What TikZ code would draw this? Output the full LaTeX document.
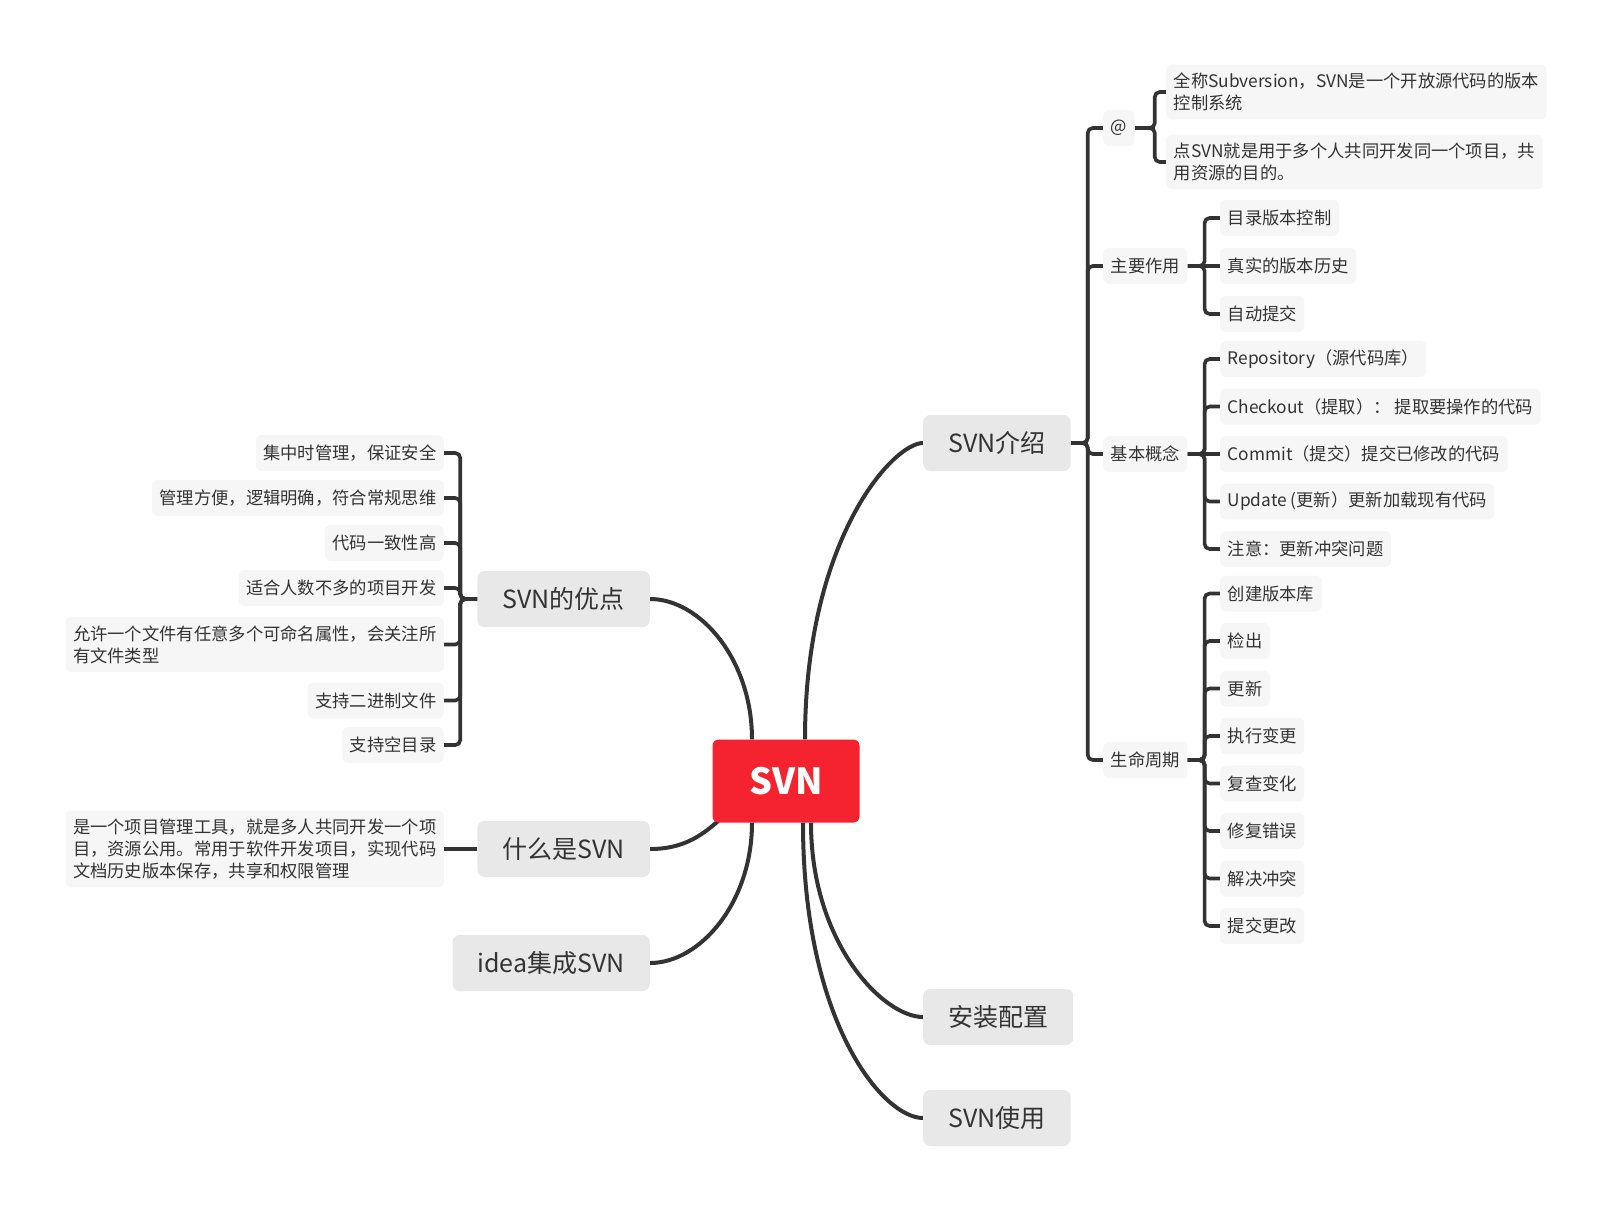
\documentclass[tikz,border=0pt]{standalone}
\usepackage{fontspec}
\setmainfont{Noto Sans CJK SC}
\usepackage{xcolor}
\usepackage{tikz}
\usetikzlibrary{backgrounds}
\definecolor{svnRed}{HTML}{F5222F}
\definecolor{topicGray}{HTML}{E8E8E8}
\definecolor{leafGray}{HTML}{F6F6F6}
\definecolor{lineDark}{HTML}{333333}
\definecolor{textDark}{HTML}{333333}

\begin{document}
\begin{tikzpicture}[x=1pt, y=-1pt,
    central/.style={fill=svnRed, rounded corners=6pt, minimum width=147pt, minimum height=83pt, text=white, font=\fontsize{36}{40}\selectfont\bfseries},
    topic/.style={fill=topicGray, rounded corners=7pt, inner xsep=25pt, minimum height=56pt, text=textDark, font=\fontsize{25}{30}\selectfont},
    leaf/.style={fill=leafGray, rounded corners=6pt, inner xsep=7.5pt, inner ysep=8.5pt, minimum height=36pt, text=textDark, font=\fontsize{17.3}{21.7}\selectfont, align=left},
    rootlink/.style={draw=lineDark, line width=4pt},
    bracket/.style={draw=lineDark, line width=3.6pt, rounded corners=5pt}]
    \useasboundingbox (0,0) rectangle (1617,1210);

    % root and main topics
    \node[central] (svn) at (786,781) {SVN};
    \node[topic, anchor=west] (intro) at (923,443) {SVN介绍};
    \node[topic, anchor=east] (pros) at (650,599) {SVN的优点};
    \node[topic, anchor=east] (what) at (650,849) {什么是SVN};
    \node[topic, anchor=east] (idea) at (650,963) {idea集成SVN};
    \node[topic, anchor=west] (install) at (923,1017) {安装配置};
    \node[topic, anchor=west] (usage) at (923,1118) {SVN使用};

    % SVN介绍
    \node[leaf, anchor=west] (atsign) at (1103,128) {@};
    \node[leaf, anchor=west] (role) at (1103,266) {主要作用};
    \node[leaf, anchor=west] (concept) at (1103,454) {基本概念};
    \node[leaf, anchor=west] (cycle) at (1103,760) {生命周期};

    \node[leaf, anchor=west] (fullname) at (1166,92) {全称Subversion，SVN是一个开放源代码的版本\\控制系统};
    \node[leaf, anchor=west] (shared) at (1166,162) {点SVN就是用于多个人共同开发同一个项目，共\\用资源的目的。};

    \node[leaf, anchor=west] (roleA) at (1220,218) {目录版本控制};
    \node[leaf, anchor=west] (roleB) at (1220,266) {真实的版本历史};
    \node[leaf, anchor=west] (roleC) at (1220,314) {自动提交};

    \node[leaf, anchor=west] (repo) at (1220,359) {Repository（源代码库）};
    \node[leaf, anchor=west] (checkout) at (1220,406.5) {Checkout（提取）： 提取要操作的代码};
    \node[leaf, anchor=west] (commit) at (1220,454) {Commit（提交）提交已修改的代码};
    \node[leaf, anchor=west] (update) at (1220,501.5) {Update (更新）更新加载现有代码};
    \node[leaf, anchor=west] (notice) at (1220,549) {注意：更新冲突问题};

    \node[leaf, anchor=west] (stepA) at (1220,593.5) {创建版本库};
    \node[leaf, anchor=west] (stepB) at (1220,641) {检出};
    \node[leaf, anchor=west] (stepC) at (1220,688.5) {更新};
    \node[leaf, anchor=west] (stepD) at (1220,736) {执行变更};
    \node[leaf, anchor=west] (stepE) at (1220,783.5) {复查变化};
    \node[leaf, anchor=west] (stepF) at (1220,831) {修复错误};
    \node[leaf, anchor=west] (stepG) at (1220,878.5) {解决冲突};
    \node[leaf, anchor=west] (stepH) at (1220,926) {提交更改};

    % SVN的优点
    \node[leaf, anchor=east] (prosA) at (444,453) {集中时管理，保证安全};
    \node[leaf, anchor=east] (prosB) at (444,498) {管理方便，逻辑明确，符合常规思维};
    \node[leaf, anchor=east] (prosC) at (444,543) {代码一致性高};
    \node[leaf, anchor=east] (prosD) at (444,588) {适合人数不多的项目开发};
    \node[leaf, anchor=east] (prosE) at (444,644.5) {允许一个文件有任意多个可命名属性，会关注所\\有文件类型};
    \node[leaf, anchor=east] (prosF) at (444,700.5) {支持二进制文件};
    \node[leaf, anchor=east] (prosG) at (444,745) {支持空目录};

    % 什么是SVN
    \node[leaf, anchor=east] (whatis) at (444,849) {是一个项目管理工具，就是多人共同开发一个项\\目，资源公用。常用于软件开发项目，实现代码\\文档历史版本保存，共享和权限管理};

    \begin{scope}[on background layer]
        \draw[rootlink] ([xshift=19pt]svn.north) .. controls +(0,-200) and +(-30,0) .. (intro.west);
        \draw[rootlink] ([xshift=-34pt]svn.north) .. controls +(0,-80) and +(50,0) .. (pros.east);
        \draw[rootlink] (what.east) .. controls +(40,0) and +(-23,22) .. ([xshift=20pt,yshift=15pt]svn.south west);
        \draw[rootlink] ([xshift=-34pt]svn.south) .. controls +(0,80) and +(50,0) .. (idea.east);
        \draw[rootlink] ([xshift=25pt]svn.south) .. controls +(0,120) and +(-40,0) .. (install.west);
        \draw[rootlink] ([xshift=17pt]svn.south) .. controls +(0,200) and +(-40,0) .. (usage.west);

        \draw[bracket] (intro.east) -- ++(17,0) |- (atsign.west);
        \draw[bracket] (intro.east) -- ++(17,0) |- (role.west);
        \draw[bracket] (intro.east) -- ++(17,0) |- (concept.west);
        \draw[bracket] (intro.east) -- ++(17,0) |- (cycle.west);

        \draw[bracket] (atsign.east) -- ++(20,0) |- (fullname.west);
        \draw[bracket] (atsign.east) -- ++(20,0) |- (shared.west);

        \draw[bracket] (role.east) -- ++(17,0) |- (roleA.west);
        \draw[bracket] (role.east) -- (roleB.west);
        \draw[bracket] (role.east) -- ++(17,0) |- (roleC.west);

        \draw[bracket] (concept.east) -- ++(17,0) |- (repo.west);
        \draw[bracket] (concept.east) -- ++(17,0) |- (checkout.west);
        \draw[bracket] (concept.east) -- (commit.west);
        \draw[bracket] (concept.east) -- ++(17,0) |- (update.west);
        \draw[bracket] (concept.east) -- ++(17,0) |- (notice.west);

        \draw[bracket] (cycle.east) -- ++(17,0) |- (stepA.west);
        \draw[bracket] (cycle.east) -- ++(17,0) |- (stepB.west);
        \draw[bracket] (cycle.east) -- ++(17,0) |- (stepC.west);
        \draw[bracket] (cycle.east) -- ++(17,0) |- (stepD.west);
        \draw[bracket] (cycle.east) -- ++(17,0) |- (stepE.west);
        \draw[bracket] (cycle.east) -- ++(17,0) |- (stepF.west);
        \draw[bracket] (cycle.east) -- ++(17,0) |- (stepG.west);
        \draw[bracket] (cycle.east) -- ++(17,0) |- (stepH.west);

        \draw[bracket] (pros.west) -- ++(-17,0) |- (prosA.east);
        \draw[bracket] (pros.west) -- ++(-17,0) |- (prosB.east);
        \draw[bracket] (pros.west) -- ++(-17,0) |- (prosC.east);
        \draw[bracket] (pros.west) -- ++(-17,0) |- (prosD.east);
        \draw[bracket] (pros.west) -- ++(-17,0) |- (prosE.east);
        \draw[bracket] (pros.west) -- ++(-17,0) |- (prosF.east);
        \draw[bracket] (pros.west) -- ++(-17,0) |- (prosG.east);

        \draw[bracket] (what.west) -- (whatis.east);
    \end{scope}
\end{tikzpicture}
\end{document}
